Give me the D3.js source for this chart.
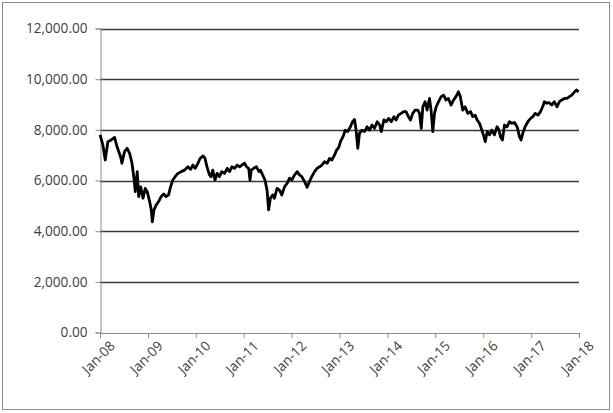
<!DOCTYPE html>
<html><head><meta charset="utf-8">
<script src="https://cdn.jsdelivr.net/npm/d3@7"></script>
<style>
html,body{margin:0;padding:0;background:#fff;}
svg{display:block;}
text{font-family:"Open Sans",sans-serif;font-size:13.6px;fill:#404040;}
</style></head>
<body>
<svg id="chart" width="613" height="413"></svg>
<script>
const dates = [
"2008-01-02","2008-01-23","2008-02-10","2008-03-01","2008-03-26","2008-04-21","2008-05-10","2008-06-06","2008-06-16","2008-07-06",
"2008-07-26","2008-08-14","2008-09-01","2008-09-16","2008-09-26","2008-10-11","2008-10-22","2008-11-06","2008-11-24","2008-12-11",
"2008-12-26","2009-01-14","2009-01-26","2009-02-03","2009-02-16","2009-03-04","2009-03-22","2009-04-11","2009-05-01","2009-05-19",
"2009-06-07","2009-06-22","2009-07-09","2009-07-27","2009-08-17","2009-09-11","2009-10-07","2009-11-01","2009-11-22","2009-12-09",
"2009-12-27","2010-01-17","2010-02-02","2010-02-25","2010-03-12","2010-03-27","2010-04-15","2010-04-27","2010-05-10","2010-05-27",
"2010-06-12","2010-06-30","2010-07-18","2010-08-08","2010-08-28","2010-09-15","2010-10-03","2010-10-23","2010-11-12","2010-11-30",
"2010-12-18","2011-01-08","2011-01-23","2011-02-08","2011-02-18","2011-02-27","2011-03-18","2011-04-08","2011-04-28","2011-05-08",
"2011-05-25","2011-06-12","2011-06-28","2011-07-10","2011-07-23","2011-08-10","2011-08-23","2011-09-12","2011-10-01","2011-10-18",
"2011-11-08","2011-11-28","2011-12-16","2012-01-03","2012-01-24","2012-02-13","2012-03-01","2012-03-19","2012-04-09","2012-04-29",
"2012-05-16","2012-06-03","2012-06-24","2012-07-13","2012-08-01","2012-08-19","2012-09-09","2012-09-29","2012-10-16","2012-11-04",
"2012-11-24","2012-12-09","2012-12-25","2013-01-09","2013-01-27","2013-02-14","2013-03-04","2013-03-25","2013-04-10","2013-04-25",
"2013-05-07","2013-05-20","2013-06-02","2013-06-20","2013-07-10","2013-07-30","2013-08-18","2013-09-05","2013-09-25","2013-10-15",
"2013-11-03","2013-11-15","2013-12-05","2013-12-23","2014-01-10","2014-01-30","2014-02-20","2014-03-08","2014-03-26","2014-04-15",
"2014-05-05","2014-05-23","2014-06-10","2014-06-26","2014-07-13","2014-07-31","2014-08-21","2014-09-03","2014-09-16","2014-09-28",
"2014-10-15","2014-10-31","2014-11-18","2014-11-30","2014-12-13","2014-12-26","2015-01-08","2015-01-26","2015-02-15","2015-03-05",
"2015-03-23","2015-04-11","2015-05-01","2015-05-21","2015-06-08","2015-06-26","2015-07-11","2015-07-29","2015-08-16","2015-09-06",
"2015-09-27","2015-10-14","2015-11-01","2015-11-16","2015-12-04","2015-12-22","2016-01-07","2016-01-17","2016-02-01","2016-02-19",
"2016-03-07","2016-03-27","2016-04-16","2016-05-01","2016-05-12","2016-05-27","2016-06-12","2016-07-01","2016-07-19","2016-08-06",
"2016-08-27","2016-09-16","2016-10-04","2016-10-16","2016-10-29","2016-11-16","2016-12-07","2016-12-28","2017-01-14","2017-02-01",
"2017-02-22","2017-03-13","2017-03-30","2017-04-12","2017-05-01","2017-05-19","2017-06-07","2017-06-27","2017-07-17","2017-08-05",
"2017-08-23","2017-09-12","2017-10-02","2017-10-20","2017-11-07","2017-11-28","2017-12-13","2017-12-29"
];
const values = [
7800,7400,6810,7530,7600,7700,7330,6940,6680,7140,
7270,7070,6680,6090,5560,6350,5360,5750,5300,5690,
5560,5160,4840,4370,4840,5030,5160,5360,5470,5360,
5430,5750,6020,6150,6280,6350,6410,6540,6440,6610,
6480,6680,6870,6970,6870,6540,6220,6150,6410,6020,
6280,6150,6350,6280,6480,6350,6540,6480,6610,6540,
6610,6680,6540,6480,6020,6410,6480,6540,6350,6410,
6220,6020,5620,4840,5300,5430,5300,5690,5620,5430,
5750,5890,6090,6020,6220,6350,6220,6150,5950,5730,
5950,6150,6350,6480,6540,6610,6740,6680,6870,6810,
7010,7200,7300,7550,7730,7990,7930,8120,8320,8410,
7990,7270,7860,7990,7930,8120,7990,8190,8060,8320,
8190,7930,8390,8320,8450,8320,8520,8390,8580,8650,
8720,8720,8520,8390,8650,8780,8780,8650,8060,8910,
9110,8780,9240,8780,7930,8650,8910,9110,9310,9370,
9180,9240,8980,9180,9310,9500,9310,8780,8910,8650,
8720,8520,8580,8390,8260,7990,7730,7530,7930,7800,
7990,7800,8120,7990,7730,7600,8190,8120,8320,8260,
8290,8120,7730,7600,7860,8120,8320,8450,8520,8650,
8580,8720,8910,9110,9050,9070,8980,9110,8910,9110,
9180,9240,9240,9310,9370,9500,9570,9500
];
const yTicks = [0,2000,4000,6000,8000,10000,12000];
const xTickLabels = ["Jan-08","Jan-09","Jan-10","Jan-11","Jan-12","Jan-13","Jan-14","Jan-15","Jan-16","Jan-17","Jan-18"];

const parse = d3.timeParse("%Y-%m-%d");
const data = dates.map((d,i)=>({date:parse(d), value:values[i]}));
const xTickDates = xTickLabels.map((s,i)=>new Date(2008+i,0,1));

const svg = d3.select("#chart");
const L=100, R=579, T=28.5, B=332.5;
const x = d3.scaleTime().domain([new Date(2008,0,1), new Date(2018,0,1)]).range([L,R]);
const y = d3.scaleLinear().domain([0,12000]).range([B,T]);

// outer border
svg.append("rect").attr("x",2.5).attr("y",2.5).attr("width",607).attr("height",407)
  .attr("fill","#fff").attr("stroke","#8c8c8c").attr("stroke-width",1);

// gridlines
svg.append("g").selectAll("line").data(yTicks.filter(v=>v>0)).join("line")
  .attr("x1",L).attr("x2",R).attr("y1",d=>Math.round(y(d))+0.5).attr("y2",d=>Math.round(y(d))+0.5)
  .attr("stroke","#3a3a3a").attr("stroke-width",1.3);

// y axis
const yAxis = d3.axisLeft(y).tickValues(yTicks).tickSize(5).tickPadding(8)
  .tickFormat(d3.format(",.2f"));
const gy = svg.append("g").attr("transform",`translate(${L+0.5},0)`).call(yAxis);
gy.select(".domain").attr("stroke","#8c8c8c");
gy.selectAll(".tick line").attr("stroke","#8c8c8c");
gy.selectAll("text").style("font-family","'Open Sans',sans-serif").style("font-size","13.6px").attr("fill","#404040");

// x axis
const xAxis = d3.axisBottom(x).tickValues(xTickDates).tickSize(5)
  .tickFormat((d,i)=>xTickLabels[i]);
const gx = svg.append("g").attr("transform",`translate(0,${B+0.5})`).call(xAxis);
gx.select(".domain").attr("stroke","#8c8c8c");
gx.selectAll(".tick line").attr("stroke","#8c8c8c");
gx.selectAll("text").style("font-family","'Open Sans',sans-serif").style("font-size","13.6px").attr("fill","#404040")
  .attr("text-anchor","end").attr("x",1).attr("y",11).attr("dy","0.7em")
  .attr("transform","rotate(-45)");

// line
const line = d3.line().x(d=>x(d.date)).y(d=>y(d.value)).curve(d3.curveLinear);
svg.append("path").datum(data).attr("d",line)
  .attr("fill","none").attr("stroke","#000").attr("stroke-width",2.8).attr("stroke-linejoin","round");
</script>
</body></html>
